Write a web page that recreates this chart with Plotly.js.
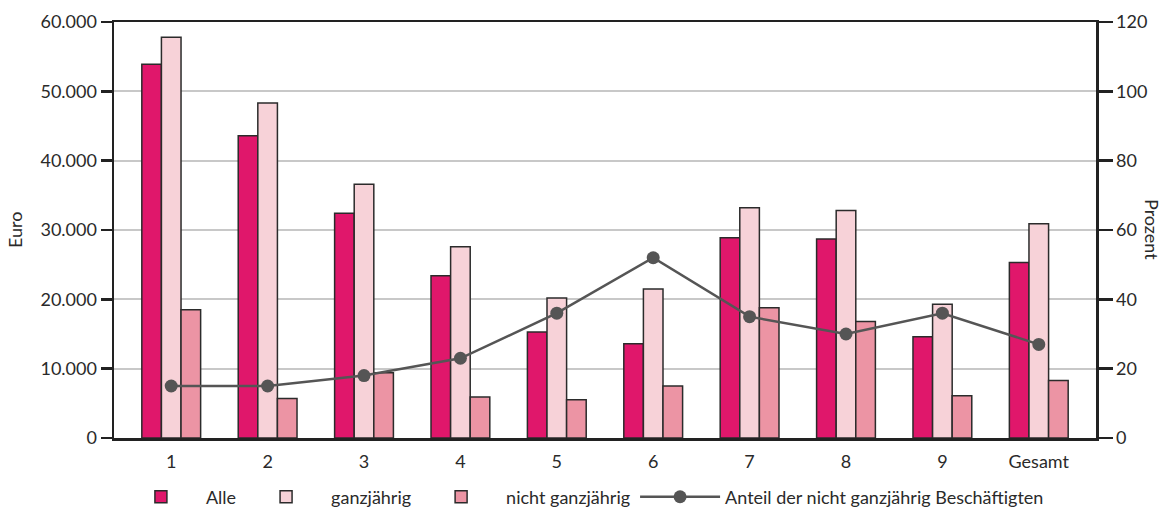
<!DOCTYPE html>
<html><head><meta charset="utf-8">
<script src="https://cdn.plot.ly/plotly-3.0.1.min.js"></script>
<style>body{margin:0;background:#fff}#chart{width:1166px;height:511px}</style>
</head><body><div id="chart"></div>
<script>
const categories = ["1","2","3","4","5","6","7","8","9","Gesamt"];
const alle = [53900, 43600, 32400, 23400, 15300, 13600, 28900, 28700, 14600, 25300];
const ganzjaehrig = [57800, 48300, 36600, 27600, 20200, 21500, 33200, 32800, 19300, 30900];
const nichtGanzjaehrig = [18500, 5700, 9400, 5900, 5500, 7500, 18800, 16800, 6100, 8300];
const anteil = [15, 15, 18, 23, 36, 52, 35, 30, 36, 27];
const yTicks = [0, 10000, 20000, 30000, 40000, 50000, 60000];
const y2Ticks = [0, 20, 40, 60, 80, 100, 120];

const outline = {color: '#2b2b2b', width: 1.5};
const font = {family: 'Lato, "Open Sans", sans-serif', size: 18, color: '#2a2a2a'};
const traces = [
  {type:'bar', name:'Alle', x:categories, y:alle, marker:{color:'#e0176b', line:outline}},
  {type:'bar', name:'ganzjährig', x:categories, y:ganzjaehrig, marker:{color:'#f7d2d8', line:outline}},
  {type:'bar', name:'nicht ganzjährig', x:categories, y:nichtGanzjaehrig, marker:{color:'#ec94a4', line:outline}},
  {type:'scatter', mode:'lines+markers', name:'Anteil der nicht ganzjährig Beschäftigten', x:categories, y:anteil, yaxis:'y2',
   line:{color:'#555', width:2.5}, marker:{color:'#555', size:13}}
];
const layout = {
  width:1166, height:511,
  margin:{l:114, r:70, t:22, b:73, autoexpand:false},
  paper_bgcolor:'#fff', plot_bgcolor:'#fff',
  font: font,
  separators: ',.',
  barmode:'group', bargap:0.39, bargroupgap:0,
  showlegend:true,
  legend:{orientation:'h', x:0.477, xanchor:'center', y:-0.142, yanchor:'middle', font:font, traceorder:'normal', itemwidth:80},
  xaxis:{type:'category', showline:true, linecolor:'#222', linewidth:2.5, mirror:true, ticks:'outside', ticklen:6, tickcolor:'rgba(0,0,0,0)', tickfont:font, showgrid:false},
  yaxis:{range:[0,60000], tickvals:yTicks, tickformat:',d', showline:true, linecolor:'#222', linewidth:2.5,
         ticks:'outside', ticklen:11, tickwidth:2.5, tickcolor:'#222', showgrid:true, gridcolor:'#c8c8c8', gridwidth:2,
         zeroline:false, tickfont:font},
  yaxis2:{range:[0,120], tickvals:y2Ticks, overlaying:'y', side:'right', showline:true, linecolor:'#222', linewidth:2.5,
          ticks:'outside', ticklen:14, tickwidth:2.5, tickcolor:'#222', showgrid:false, zeroline:false, tickfont:font},
  annotations:[
    {text:'Euro', xref:'paper', yref:'paper', x:-0.1008, y:0.5, xanchor:'center', yanchor:'middle',
     textangle:-90, showarrow:false, font:font},
    {text:'Prozent', xref:'paper', yref:'paper', x:1.057, y:0.5, xanchor:'center', yanchor:'middle',
     textangle:90, showarrow:false, font:font}]
};
Plotly.newPlot('chart', traces, layout, {displayModeBar:false, staticPlot:true});
</script></body></html>
